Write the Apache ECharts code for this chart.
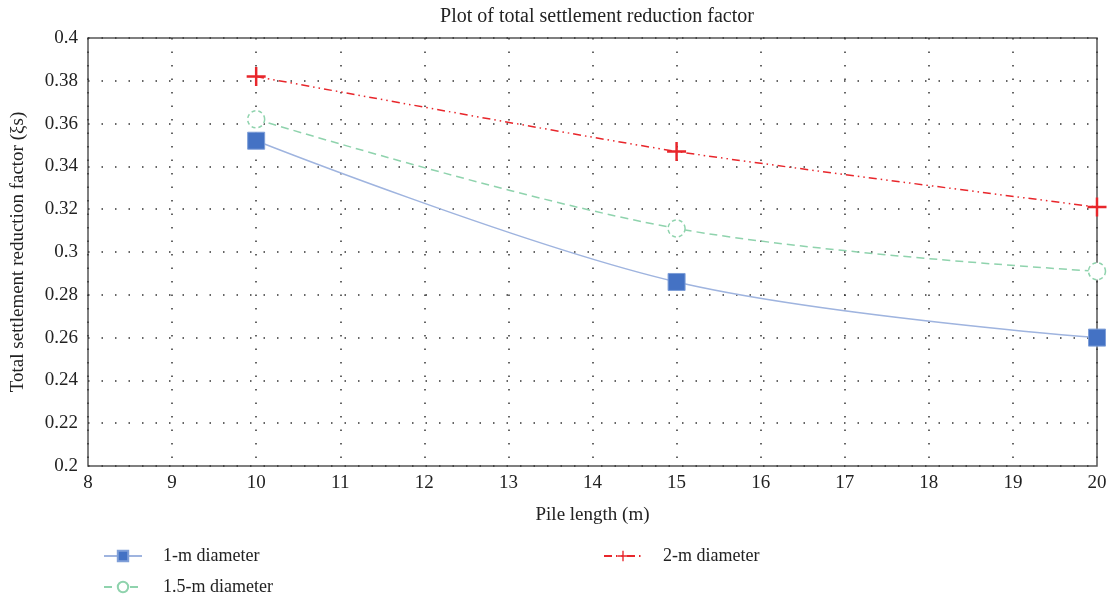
<!DOCTYPE html>
<html>
<head>
<meta charset="utf-8">
<script src="https://cdn.jsdelivr.net/npm/echarts@6/dist/echarts.min.js"></script>
<style>
  html, body { margin: 0; padding: 0; background: #fff; }
  #chart { width: 1112px; height: 598px; }
</style>
</head>
<body>
<div id="chart"></div>
<script>
  // pile length (m)
  const pileLength = [10, 15, 20];
  const dia1 = [0.352, 0.286, 0.260];
  const dia15 = [0.362, 0.311, 0.291];
  const dia2 = [0.382, 0.347, 0.321];
  const seriesNames = ['1-m diameter', '1.5-m diameter', '2-m diameter'];

  const pair = (ys) => pileLength.map((x, i) => [x, ys[i]]);

  const font = 'Liberation Serif';
  const crossPath = 'path://M4.35,0H5.65V4.35H10V5.65H5.65V10H4.35V5.65H0V4.35H4.35Z';

  var myChart = echarts.init(document.getElementById('chart'));

  const gridLine = {
    show: true,
    lineStyle: { color: '#333', width: 1.5, type: [1.5, 12] }
  };

  const legendText = { fontFamily: font, fontSize: 18, color: '#222', padding: [0, 0, 0, 16] };

  const option = {
    animation: false,
    textStyle: { fontFamily: font },
    title: {
      text: 'Plot of total settlement reduction factor',
      left: 592,
      textAlign: 'center',
      top: 2,
      textStyle: { fontFamily: font, fontSize: 20, fontWeight: 'normal', color: '#222' }
    },
    grid: {
      left: 88, right: 15, top: 38, bottom: 132,
      show: true, borderColor: '#555', borderWidth: 1.5
    },
    legend: [
      {
        data: [seriesNames[0]], left: 98, top: 542,
        itemWidth: 38, itemHeight: 13, textStyle: legendText
      },
      {
        data: [seriesNames[1]], left: 98, top: 573,
        itemWidth: 38, itemHeight: 13, textStyle: legendText
      },
      {
        data: [seriesNames[2]], left: 598, top: 542,
        itemWidth: 38, itemHeight: 13, textStyle: legendText
      }
    ],
    xAxis: {
      type: 'value',
      min: 8, max: 20, interval: 1,
      name: 'Pile length (m)',
      nameLocation: 'middle',
      nameGap: 40,
      nameTextStyle: { fontFamily: font, fontSize: 19, color: '#222' },
      axisLine: { show: false },
      axisTick: { show: false },
      axisLabel: { fontFamily: font, fontSize: 19, color: '#222', margin: 8 },
      splitLine: gridLine
    },
    yAxis: {
      type: 'value',
      min: 0.2, max: 0.4, interval: 0.02,
      name: 'Total settlement reduction factor (ξs)',
      nameLocation: 'middle',
      nameGap: 60,
      nameTextStyle: { fontFamily: font, fontSize: 19, color: '#222' },
      axisLine: { show: false },
      axisTick: { show: false },
      axisLabel: { fontFamily: font, fontSize: 19, color: '#222', margin: 10 },
      splitLine: gridLine
    },
    series: [
      {
        name: seriesNames[0],
        type: 'line',
        data: pair(dia1),
        smooth: 0.35,
        symbol: 'rect',
        symbolSize: 17,
        itemStyle: { color: '#4472c4', borderColor: '#7f9fd8', borderWidth: 1 },
        lineStyle: { color: '#9fb4df', width: 1.5 },
        z: 3
      },
      {
        name: seriesNames[1],
        type: 'line',
        data: pair(dia15),
        smooth: 0.35,
        symbol: 'circle',
        symbolSize: 17,
        itemStyle: { color: '#ffffff', borderColor: '#8fd3ad', borderWidth: 1.5, borderType: [4, 3] },
        lineStyle: { color: '#8fd3ad', width: 1.5, type: [8, 5] },
        z: 2
      },
      {
        name: seriesNames[2],
        type: 'line',
        data: pair(dia2),
        smooth: 0.2,
        symbol: crossPath,
        symbolSize: 19,
        itemStyle: { color: '#e8262b' },
        lineStyle: { color: '#e8262b', width: 1.5, type: [8, 4, 1.5, 4, 1.5, 4] },
        z: 4
      }
    ]
  };
  myChart.setOption(option);
</script>
</body>
</html>
